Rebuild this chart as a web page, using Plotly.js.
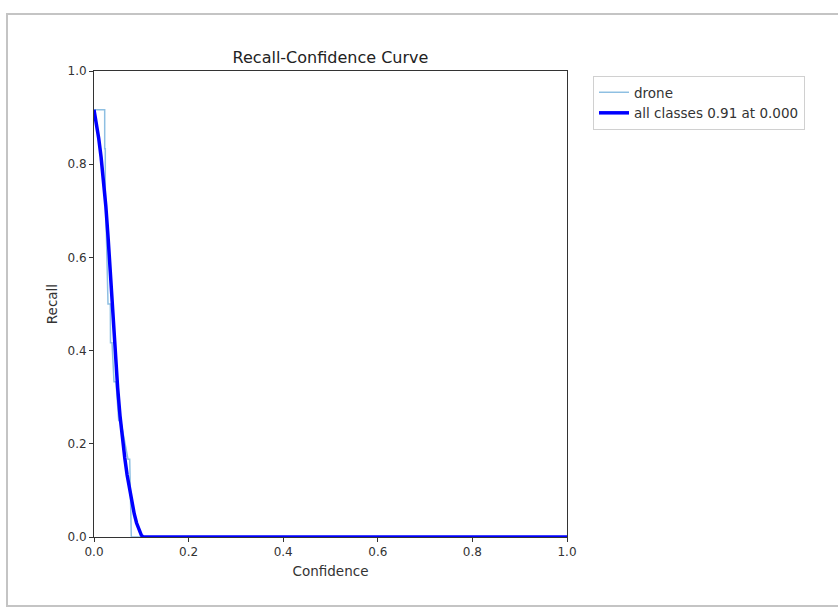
<!DOCTYPE html>
<html>
<head>
<meta charset="utf-8">
<script src="https://cdn.plot.ly/plotly-3.0.1.min.js"></script>
<style>html,body{margin:0;padding:0;background:#fff;}#chart{width:838px;height:610px;}</style>
</head>
<body>
<div id="chart"></div>
<script>
// Per-class recall curve (drone)
const droneConf = [0, 0.0226, 0.0226, 0.0239, 0.0239, 0.0296, 0.0345, 0.0349, 0.0381, 0.0423, 0.0465, 0.0522, 0.0564, 0.0719, 0.0755, 0.0789, 1.0];
const droneRecall = [0.917, 0.917, 0.833, 0.833, 0.75, 0.5, 0.5, 0.417, 0.417, 0.333, 0.333, 0.25, 0.25, 0.167, 0.167, 0, 0];
// Smoothed all-classes curve
const allConf = [0, 0.005, 0.01, 0.015, 0.02, 0.025, 0.03, 0.035, 0.04, 0.045, 0.05, 0.055, 0.06, 0.065, 0.07, 0.075, 0.08, 0.085, 0.09, 0.095, 0.1, 0.104, 1.0];
const allRecall = [0.917, 0.89, 0.855, 0.815, 0.77, 0.71, 0.64, 0.56, 0.47, 0.385, 0.32, 0.26, 0.21, 0.17, 0.133, 0.103, 0.075, 0.05, 0.03, 0.014, 0.004, 0, 0];
const seriesNames = ["drone", "all classes 0.91 at 0.000"];
const tickVals = [0, 0.2, 0.4, 0.6, 0.8, 1.0];
const tickText = ["0.0", "0.2", "0.4", "0.6", "0.8", "1.0"];

const font = "DejaVu Sans, sans-serif";
const traces = [
  {x: droneConf, y: droneRecall, mode: "lines", name: seriesNames[0],
   line: {color: "#8ebfe2", width: 1.5}},
  {x: allConf, y: allRecall, mode: "lines", name: seriesNames[1],
   line: {color: "#0000ff", width: 3.5}}
];

const axisCommon = {
  range: [0, 1], tickvals: tickVals, ticktext: tickText,
  showline: true, linecolor: "#333", linewidth: 1, mirror: true,
  ticks: "outside", ticklen: 4, tickcolor: "#333", showgrid: false, zeroline: false,
  tickfont: {family: font, size: 12, color: "#333"}
};

const layout = {
  width: 838, height: 610,
  margin: {l: 94, r: 271, t: 71, b: 73},
  paper_bgcolor: "#fff", plot_bgcolor: "#fff",
  font: {family: font, color: "#333"},
  title: {text: "Recall-Confidence Curve", font: {family: font, size: 16, color: "#222"},
          x: 0.5, xref: "paper", xanchor: "center", y: 1 - 57/610, yanchor: "middle"},
  xaxis: Object.assign({}, axisCommon, {title: {text: "Confidence", font: {family: font, size: 13.5, color: "#333"}, standoff: 8}}),
  yaxis: Object.assign({}, axisCommon, {title: {text: "Recall", font: {family: font, size: 13.5, color: "#333"}, standoff: 6}}),
  showlegend: true,
  legend: {x: (593-94)/473, y: (537-76)/466, xanchor: "left", yanchor: "top",
           bordercolor: "#d0d0d0", borderwidth: 1, bgcolor: "#fff",
           font: {family: font, size: 13.5, color: "#333"}, tracegroupgap: 0},
  shapes: [
    {type: "rect", xref: "paper", yref: "paper", layer: "below",
     x0: (7-94)/473, x1: (850-94)/473, y0: (537-606)/466, y1: (537-14)/466,
     line: {color: "#c4c4c4", width: 2}, fillcolor: "rgba(0,0,0,0)"}
  ]
};

Plotly.newPlot("chart", traces, layout, {displayModeBar: false, staticPlot: true});
</script>
</body>
</html>
